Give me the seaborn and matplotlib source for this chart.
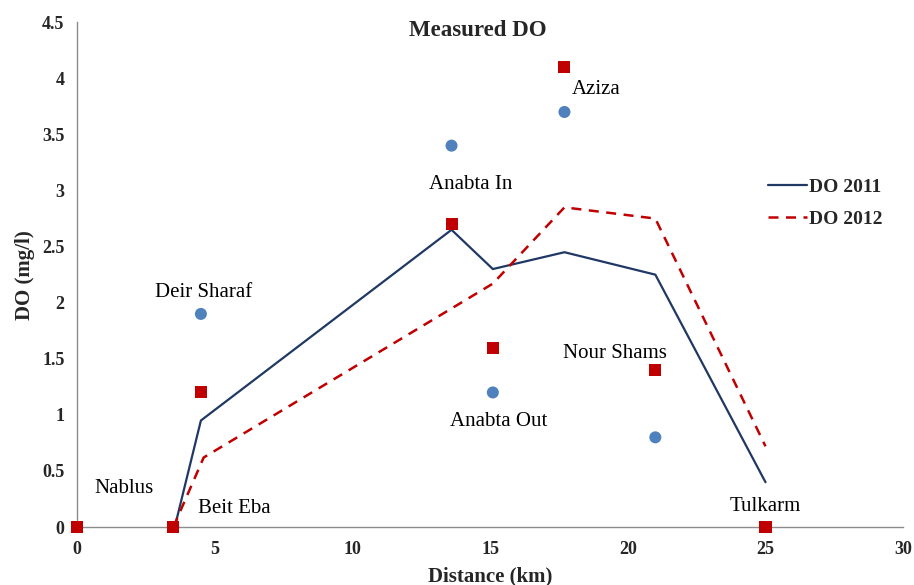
import numpy as np
import pandas as pd
import matplotlib
matplotlib.use("Agg")
import matplotlib.pyplot as plt
import seaborn as sns

# stations along the stream
stations = ["Nablus", "Beit Eba", "Deir Sharaf", "Anabta In", "Anabta Out",
            "Aziza", "Nour Shams", "Tulkarm"]
distance = [0, 3.5, 4.5, 13.6, 15.1, 17.7, 21, 25]

# measured DO (points)
do_2011_pts = [0, 0, 1.9, 3.4, 1.2, 3.7, 0.8, 0]
do_2012_pts = [0, 0, 1.2, 2.7, 1.6, 4.1, 1.4, 0]

# DO lines
line_2011_x = [3.55, 4.5, 13.6, 15.1, 17.7, 21, 25]
line_2011_y = [0, 0.95, 2.65, 2.3, 2.45, 2.25, 0.4]
line_2012_x = [3.5, 4.6, 15.1, 17.7, 21, 25]
line_2012_y = [0, 0.62, 2.17, 2.85, 2.75, 0.72]

# label placement (data coords)
label_pos = {
    "Nablus": (1.7, 0.34), "Beit Eba": (5.7, 0.17), "Deir Sharaf": (4.6, 2.09),
    "Anabta In": (14.3, 3.05), "Anabta Out": (15.3, 0.94), "Aziza": (18.85, 3.9),
    "Nour Shams": (19.55, 1.55), "Tulkarm": (25.0, 0.18),
}

sns.set_style("white")
plt.rcParams["font.family"] = ["Liberation Serif", "DejaVu Serif"]

navy = "#203864"
red = "#C00000"
blue = "#4F81BD"

pts = pd.DataFrame({"station": stations, "dist": distance,
                    "y2011": do_2011_pts, "y2012": do_2012_pts})
l11 = pd.DataFrame({"x": line_2011_x, "y": line_2011_y})
l12 = pd.DataFrame({"x": line_2012_x, "y": line_2012_y})

fig = plt.figure(figsize=(9.14, 5.85), dpi=100)
ax = fig.add_axes([0.0842, 0.099, 0.904, 0.863])

sns.scatterplot(data=pts, x="dist", y="y2011", ax=ax, color=blue, marker="o",
                s=75, edgecolor="none", zorder=3, legend=False, clip_on=False)
sns.scatterplot(data=pts, x="dist", y="y2012", ax=ax, color=red, marker="s",
                s=75, edgecolor="none", zorder=4, legend=False, clip_on=False)
sns.lineplot(data=l11, x="x", y="y", ax=ax, color=navy, lw=1.6,
             label="DO 2011", sort=False, zorder=2)
sns.lineplot(data=l12, x="x", y="y", ax=ax, color=red, lw=1.8,
             linestyle=(0, (4, 3)), label="DO 2012", sort=False, zorder=2)

for name in stations:
    x, y = label_pos[name]
    ax.text(x, y, name, ha="center", va="center", fontsize=15, color="black")

ax.set_xlim(0, 30)
ax.set_ylim(0, 4.5)
ax.set_xticks(np.arange(0, 31, 5))
ax.set_yticks(np.arange(0, 4.6, 0.5))
ax.set_yticklabels([f"{v:g}" for v in np.arange(0, 4.6, 0.5)])
ax.tick_params(axis="both", length=0, labelsize=13)
ax.tick_params(axis="x", pad=10)
ax.tick_params(axis="y", pad=9)
for lab in ax.get_xticklabels() + ax.get_yticklabels():
    lab.set_fontweight("bold")

for s in ["top", "right"]:
    ax.spines[s].set_visible(False)
for s in ["left", "bottom"]:
    ax.spines[s].set_color("#8c8c8c")
    ax.spines[s].set_linewidth(1.0)

ax.set_xlabel("Distance (km)", fontsize=15, fontweight="bold", labelpad=6)
ax.set_ylabel("DO (mg/l)", fontsize=15, fontweight="bold", labelpad=5)
fig.text(478 / 914, 1 - 30 / 585, "Measured DO", ha="center", va="center",
         fontsize=16.5, fontweight="bold")

leg = ax.legend(loc="upper left", bbox_to_anchor=(0.827, 0.707), frameon=False,
                fontsize=14, handlelength=2.0, handletextpad=0.1,
                labelspacing=0.75, borderaxespad=0)
for t in leg.get_texts():
    t.set_fontweight("bold")

fig.savefig("out.png", dpi=100)
